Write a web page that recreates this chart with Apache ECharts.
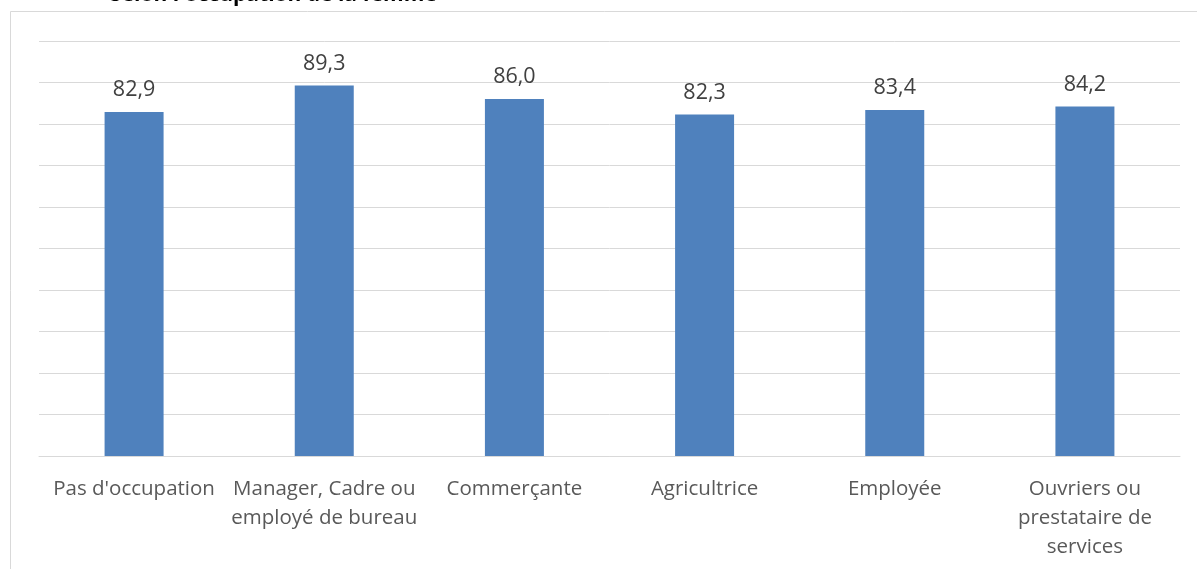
<!DOCTYPE html>
<html>
<head>
<meta charset="utf-8">
<style>
  html, body { margin: 0; padding: 0; background: #fff; }
  #chart { width: 1197px; height: 569px; }
</style>
<script src="https://cdn.jsdelivr.net/npm/echarts@6/dist/echarts.min.js"></script>
</head>
<body>
<div id="chart"></div>
<script>
// Occupation categories (line breaks as shown under the axis)
const categories = [
  "Pas d'occupation",
  "Manager, Cadre ou\nemployé de bureau",
  "Commerçante",
  "Agricultrice",
  "Employée",
  "Ouvriers ou\nprestataire de\nservices"
];
// Percentage per category
const values = [82.9, 89.3, 86.0, 82.3, 83.4, 84.2];
const titleText = "Selon l'occupation de la femme";

const FONT = "Open Sans";
const chart = echarts.init(document.getElementById('chart'), null, { renderer: 'canvas' });

chart.setOption({
  backgroundColor: '#ffffff',
  animation: false,
  title: {
    text: titleText,
    left: 105,
    top: -20,
    textStyle: { fontFamily: FONT, fontSize: 21, fontWeight: 'bold', color: '#000000' }
  },
  graphic: [{
    type: 'rect',
    shape: { x: 10.5, y: 11.5, width: 1200, height: 600 },
    style: { fill: 'none', stroke: '#d9d9d9', lineWidth: 1 },
    silent: true
  }],
  grid: { left: 39, right: 17, top: 41, bottom: 113 },
  xAxis: {
    type: 'category',
    data: categories,
    axisLine: { lineStyle: { color: '#d9d9d9', width: 1 } },
    axisTick: { show: false },
    axisLabel: {
      interval: 0,
      margin: 19,
      fontFamily: FONT,
      fontSize: 20.5,
      lineHeight: 29,
      color: '#595959'
    }
  },
  yAxis: {
    type: 'value',
    min: 0,
    max: 100,
    interval: 10,
    axisLabel: { show: false },
    axisLine: { show: false },
    axisTick: { show: false },
    splitLine: { lineStyle: { color: '#d9d9d9', width: 1 } }
  },
  series: [{
    type: 'bar',
    data: values,
    barWidth: 59,
    itemStyle: { color: '#4f81bd' },
    label: {
      show: true,
      position: 'top',
      distance: 11,
      fontFamily: FONT,
      fontSize: 21.5,
      color: '#404040',
      formatter: p => p.value.toFixed(1).replace('.', ',')
    }
  }]
});
</script>
</body>
</html>
